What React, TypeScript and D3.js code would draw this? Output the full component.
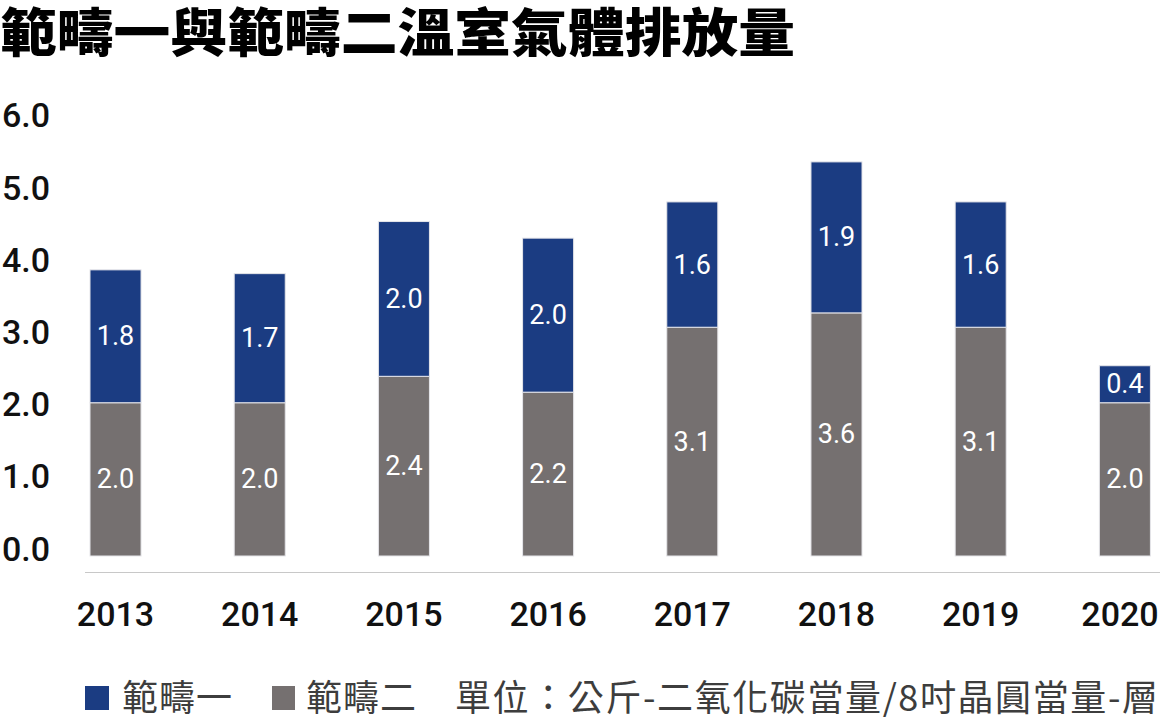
import React from "react";
import * as d3 from "d3";

const years = ["2013", "2014", "2015", "2016", "2017", "2018", "2019", "2020"];
// bar heights as drawn in the picture
const scope2 = [2.03, 2.03, 2.38, 2.17, 3.03, 3.22, 3.03, 2.03];
const scope1 = [1.76, 1.71, 2.05, 2.04, 1.66, 2.0, 1.66, 0.49];
// value labels as printed
const scope2Labels = ["2.0", "2.0", "2.4", "2.2", "3.1", "3.6", "3.1", "2.0"];
const scope1Labels = ["1.8", "1.7", "2.0", "2.0", "1.6", "1.9", "1.6", "0.4"];
const yTicks = [0, 1, 2, 3, 4, 5, 6];

const title = "範疇一與範疇二溫室氣體排放量";
const legendItems = ["範疇一", "範疇二"];
const unitText = "單位：公斤-二氧化碳當量/8吋晶圓當量-層";

const BLUE = "#1b3c82";
const GRAY = "#757070";
const FONT = "'Noto Sans CJK TC', 'Noto Sans', sans-serif";
const NUM = "Roboto, 'Noto Sans', sans-serif";

export default function App() {
  const W = 1160;
  const H = 725;
  const x = d3.scaleBand<string>().domain(years).range([90, 1150.4]).paddingInner(0.646).paddingOuter(0);
  const yBar = d3.scaleLinear().domain([0, 6]).range([556, 556 - 6 * 75.5]);
  const yAxis = d3.scaleLinear().domain([0, 6]).range([548.5, 115.3]);
  const bw = x.bandwidth();

  return (
    <svg width={W} height={H} style={{ position: "absolute", left: 0, top: 0, background: "#fff" }} fontFamily={FONT}>
      <text x={0} y={29} fontSize={52} fontWeight={900} fill="#000" dominantBaseline="central" textLength={795} lengthAdjust="spacingAndGlyphs">
        {title}
      </text>

      {yTicks.map((t) => (
        <text key={t} x={2} y={yAxis(t)} fontSize={34} fontWeight={500} fill="#111" fontFamily={NUM} dominantBaseline="central">
          {t.toFixed(1)}
        </text>
      ))}

      <line x1={85} x2={1160} y1={572.5} y2={572.5} stroke="#c8c8c8" strokeWidth={1.2} />

      {years.map((yr, i) => {
        const x0 = x(yr)!;
        const g0 = yBar(0);
        const g1 = yBar(scope2[i]);
        const b1 = yBar(scope2[i] + scope1[i]);
        const cx = x0 + bw / 2;
        return (
          <g key={yr}>
            <rect x={x0} y={g1} width={bw} height={g0 - g1} fill={GRAY} stroke="#e6e6ea" strokeWidth={1} />
            <rect x={x0} y={b1} width={bw} height={g1 - b1} fill={BLUE} stroke="#e6e6ea" strokeWidth={1} />
            <text x={cx} y={(g0 + g1) / 2} fontSize={27} fill="#fff" fontFamily={NUM} textAnchor="middle" dominantBaseline="central">
              {scope2Labels[i]}
            </text>
            <text x={cx} y={(g1 + b1) / 2} fontSize={27} fill="#fff" fontFamily={NUM} textAnchor="middle" dominantBaseline="central">
              {scope1Labels[i]}
            </text>
            <text x={Math.min(cx, W - 40)} y={614} fontSize={34} fontWeight={500} fill="#111" fontFamily={NUM} textAnchor="middle" dominantBaseline="central">
              {yr}
            </text>
          </g>
        );
      })}

      <g>
        <rect x={85} y={686} width={24} height={24} fill={BLUE} />
        <text x={122} y={695} fontSize={36} fill="#3d3d3d" dominantBaseline="central" textLength={110} lengthAdjust="spacing">{legendItems[0]}</text>
        <rect x={272} y={686} width={23} height={24} fill={GRAY} />
        <text x={306} y={695} fontSize={36} fill="#3d3d3d" dominantBaseline="central" textLength={110} lengthAdjust="spacing">{legendItems[1]}</text>
        <text x={455} y={695} fontSize={36} fill="#3d3d3d" dominantBaseline="central" textLength={703} lengthAdjust="spacing">{unitText}</text>
      </g>
    </svg>
  );
}
